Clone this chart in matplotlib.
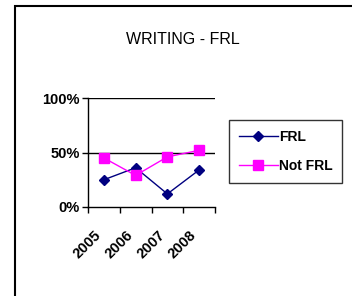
import numpy as np
import matplotlib.pyplot as plt
from matplotlib.patches import Rectangle

# Data
years = ['2005', '2006', '2007', '2008']
frl = [25, 36, 12, 34]
not_frl = [45, 29, 46, 52]

plt.rcParams['font.family'] = ['Liberation Sans', 'DejaVu Sans']

fig = plt.figure(figsize=(3.52, 2.96), dpi=100)
fig.patch.set_facecolor('white')

# outer chart border
fig.patches.append(Rectangle((15/352, -0.1), 1.0, 1 - 6/296 + 0.1, transform=fig.transFigure,
                             fill=False, edgecolor='black', linewidth=1.5))

ax = fig.add_axes([88/352, 1 - 207/296, 127/352, 109/296])
x = np.arange(len(years)) + 0.5

ax.plot(x, frl, color='#000080', marker='D', markersize=5, linewidth=1, label='FRL')
ax.plot(x, not_frl, color='#FF00FF', marker='s', markersize=6.5, linewidth=1, label='Not FRL')

ax.set_xlim(0, len(years))
ax.set_ylim(0, 100)
ax.set_yticks([0, 50, 100])
ax.set_yticklabels(['0%', '50%', '100%'], fontsize=10.5, fontweight='bold')
ax.set_xticks(np.arange(len(years) + 1))
ax.set_xticklabels([])
ax.set_xticks(x, minor=True)
ax.set_xticklabels(years, minor=True, rotation=45, ha='right', fontsize=10.5, fontweight='bold')
ax.tick_params(axis='x', which='minor', length=0, pad=15)
ax.tick_params(axis='both', which='major', direction='out', length=4, width=1, color='black')
ax.tick_params(axis='y', pad=2)

for y in [50, 100]:
    ax.axhline(y, color='black', linewidth=1, zorder=0)
ax.spines['top'].set_visible(False)
ax.spines['right'].set_visible(False)
ax.spines['left'].set_linewidth(1)
ax.spines['bottom'].set_linewidth(1)

fig.text(183/352, 1 - 40/296, 'WRITING - FRL', ha='center', va='center', fontsize=11.5)

leg = ax.legend(loc='upper left', bbox_to_anchor=(229/352, 1 - 120/296), bbox_transform=fig.transFigure,
                frameon=True, fancybox=False, edgecolor='black', fontsize=10, handlelength=2.8,
                borderpad=0.7, labelspacing=1.1, handletextpad=0.1, borderaxespad=0)
leg.get_frame().set_linewidth(1)
for t in leg.get_texts():
    t.set_fontweight('bold')

fig.savefig('out.png', dpi=100)
